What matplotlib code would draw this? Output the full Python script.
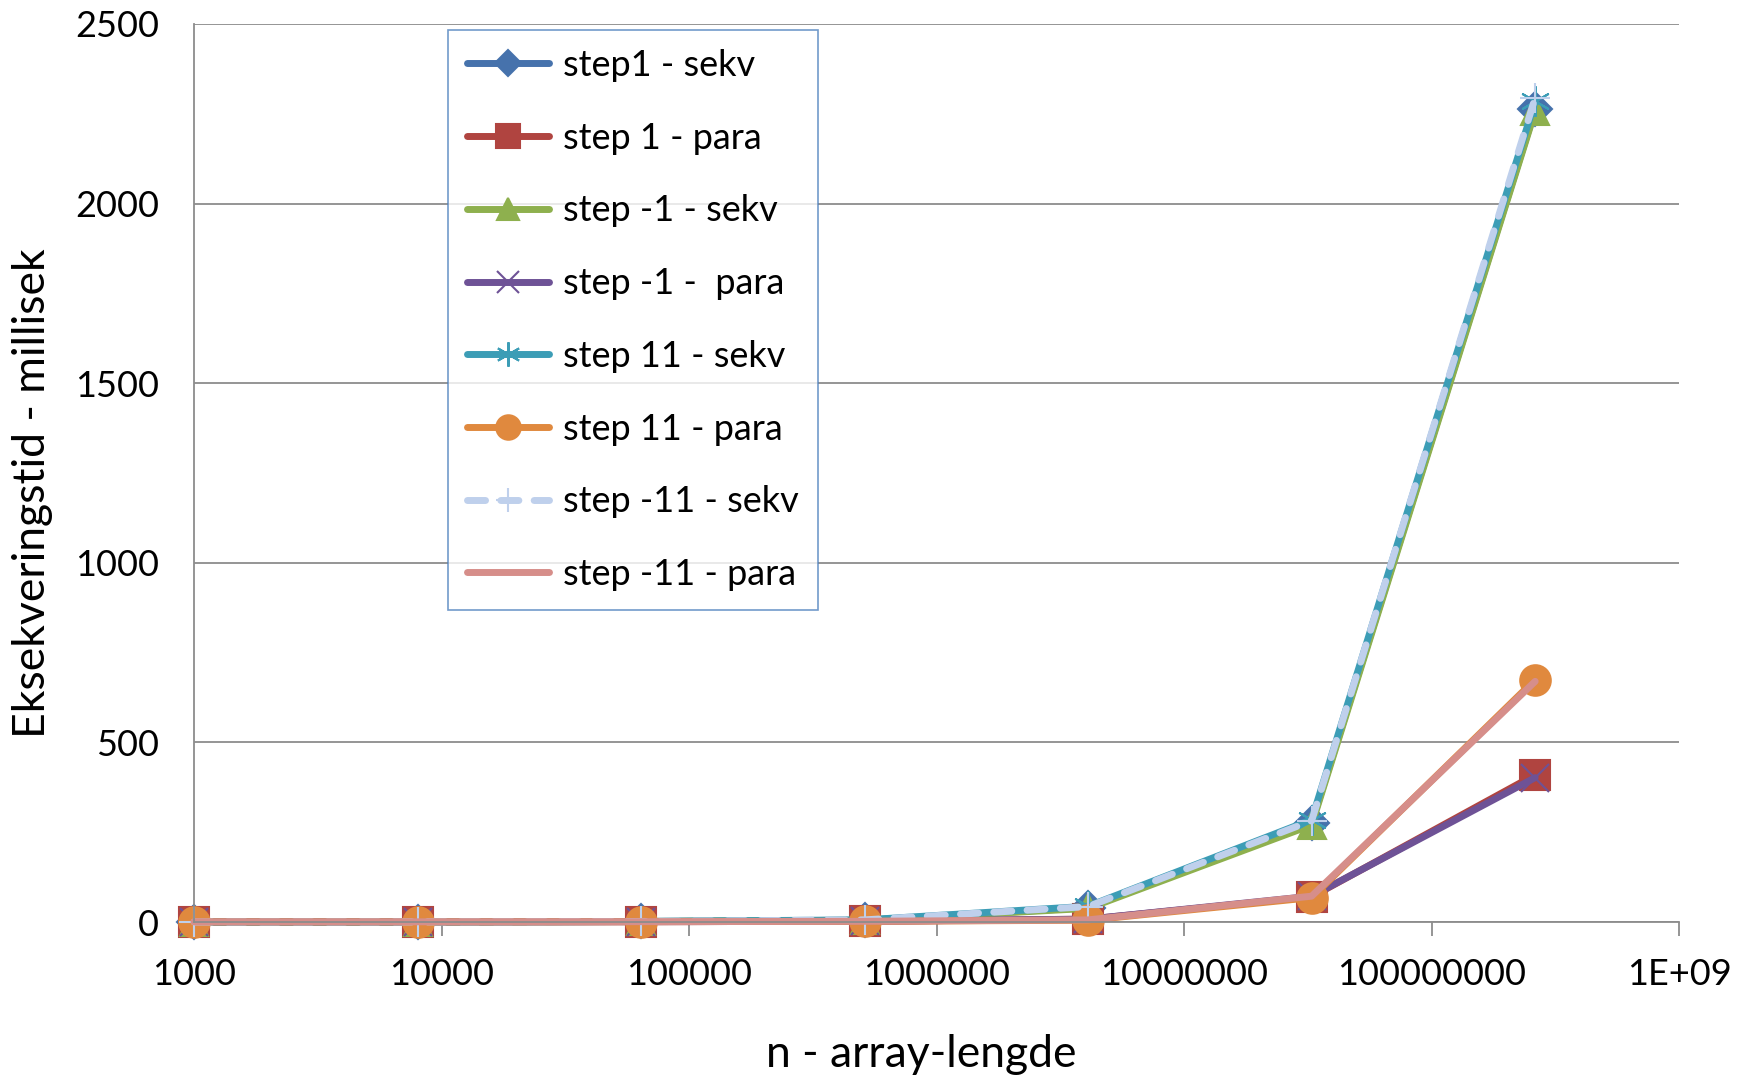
import matplotlib.pyplot as plt
from matplotlib.ticker import FixedLocator, FixedFormatter

## array lengths (n multiplied by 8 each step)
n_values = [1000, 8000, 64000, 512000, 4096000, 32768000, 262144000]

## run times in millisek
step1_sekv = [0.1, 0.4, 1.5, 5, 40, 275, 2262]
step1_para = [0.5, 0.6, 1.0, 2, 8, 70, 410]
stepm1_sekv = [0.1, 0.4, 1.5, 5, 38, 270, 2258]
stepm1_para = [0.5, 0.6, 1.0, 2, 8, 72, 402]
step11_sekv = [0.1, 0.4, 1.6, 6, 44, 285, 2285]
step11_para = [0.5, 0.6, 1.0, 2, 5, 68, 675]
stepm11_sekv = [0.1, 0.4, 1.6, 6, 43, 282, 2295]
stepm11_para = [0.5, 0.6, 1.0, 2, 6, 72, 670]

labels = ["step1 - sekv", "step 1 - para", "step -1 - sekv", "step -1 -  para",
          "step 11 - sekv", "step 11 - para", "step -11 - sekv", "step -11 - para"]

x_ticks = [1e3, 1e4, 1e5, 1e6, 1e7, 1e8, 1e9]
x_ticklabels = ["1000", "10000", "100000", "1000000", "10000000", "100000000", "1E+09"]
y_ticks = [0, 500, 1000, 1500, 2000, 2500]

plt.rcParams['font.family'] = ['Lato', 'DejaVu Sans']

fig = plt.figure(figsize=(17.4, 10.75), dpi=100)
ax = fig.add_axes([0.1115, 0.1423, 0.8535, 0.8354])

## excel-ish styles: (data, color, marker, markersize, linestyle)
styles = [
    (step1_sekv, "#4672AC", "D", 17, "-"),
    (step1_para, "#B04440", "s", 22, "-"),
    (stepm1_sekv, "#8EB04E", "^", 20, "-"),
    (stepm1_para, "#6E5296", "x", 20, "-"),
    (step11_sekv, "#3C9DB6", (6, 2, 0), 22, "-"),
    (step11_para, "#E0893E", "o", 22, "-"),
    (stepm11_sekv, "#BFD0EC", "+", 22, (0, (2.6, 2.2))),
    (stepm11_para, "#D68E8A", "None", 0, "-"),
]

for (vals, col, mk, ms, ls), lab in zip(styles, labels):
    ax.plot(n_values, vals, color=col, marker=mk, markersize=ms, linestyle=ls,
            linewidth=5, markeredgewidth=1.5, markerfacecolor=col, markeredgecolor=col,
            label=lab, clip_on=False, solid_capstyle="round", dash_capstyle="round")

ax.set_xscale("log")
ax.set_xlim(1e3, 1e9)
ax.set_ylim(0, 2500)
ax.xaxis.set_major_locator(FixedLocator(x_ticks))
ax.xaxis.set_major_formatter(FixedFormatter(x_ticklabels))
ax.xaxis.set_minor_locator(FixedLocator([]))
ax.set_yticks(y_ticks)

ax.grid(axis="y", color="#8c8c8c", linewidth=1.3)
ax.set_axisbelow(True)
for s in ["top", "right"]:
    ax.spines[s].set_visible(False)
for s in ["left", "bottom"]:
    ax.spines[s].set_color("#8c8c8c")
    ax.spines[s].set_linewidth(1.3)

ax.tick_params(axis="x", length=10, width=1.3, color="#8c8c8c", labelsize=26, pad=16)
ax.tick_params(axis="y", length=0, labelsize=26, pad=25)

ax.set_xlabel("n - array-lengde", fontsize=32)
ax.set_ylabel("Eksekveringstid - millisek", fontsize=32)
## excel put the titles a bit off centre
ax.xaxis.set_label_coords(0.49, -0.125)
ax.yaxis.set_label_coords(-0.095, 0.477)

leg = ax.legend(loc="upper left", bbox_to_anchor=(0.171, 0.993), fontsize=26,
                frameon=True, fancybox=False, labelspacing=1.1, handlelength=2.27,
                handletextpad=0.4, borderpad=0.52, borderaxespad=0, markerscale=0.8)
leg.get_frame().set_edgecolor("#4F81BD")
leg.get_frame().set_linewidth(1.2)

fig.savefig("out.png", dpi=100)
